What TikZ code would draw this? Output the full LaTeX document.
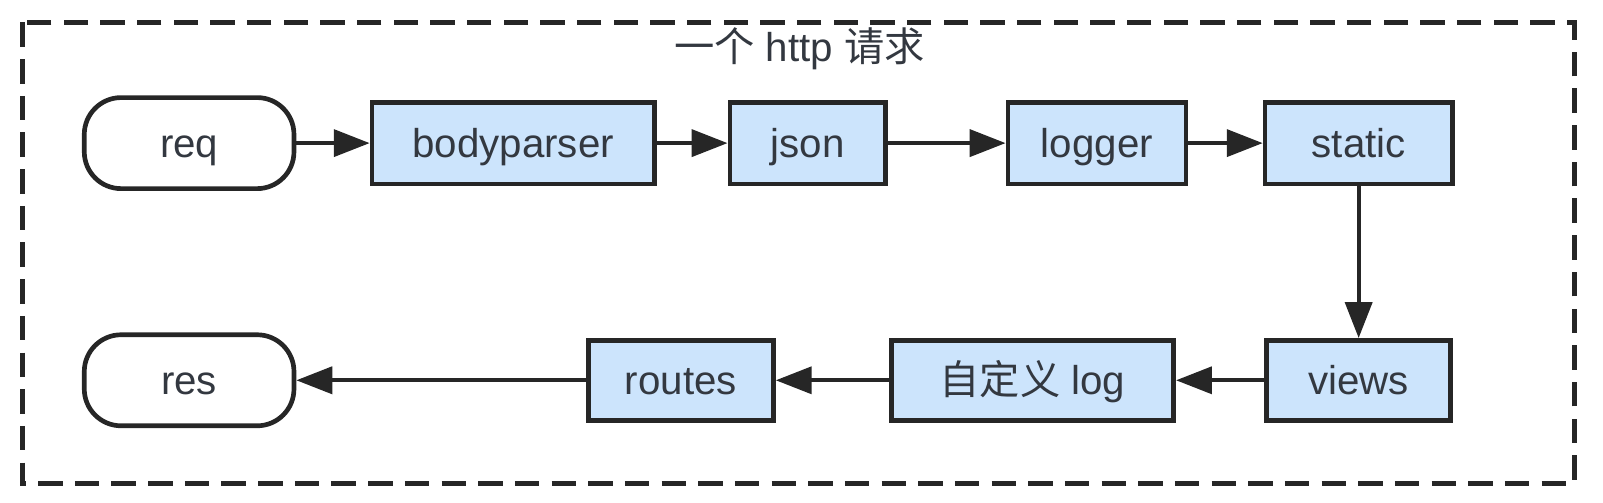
\documentclass[tikz,border=0pt]{standalone}
\usepackage{fontspec}
\setmainfont{Liberation Sans}
\newfontfamily\cjk{Noto Sans CJK SC}
\usetikzlibrary{arrows.meta}
\definecolor{boxblue}{HTML}{CCE4FC}
\definecolor{inkgray}{HTML}{262626}
\definecolor{textgray}{HTML}{333840}
\tikzset{
  mw/.style={draw=inkgray, line width=1.3pt, fill=boxblue, text=textgray, minimum height=0.8cm, inner sep=0pt, text height=0.9em, text depth=0.1em, font=\fontsize{11.2}{13}\selectfont},
  term/.style={draw=inkgray, line width=1.3pt, rounded corners=0.36cm, text=textgray, minimum width=2.05cm, minimum height=0.89cm, inner sep=0pt, text height=0.9em, text depth=0.1em, font=\fontsize{11.2}{13}\selectfont},
  flow/.style={->, line width=1.1pt, draw=inkgray}
}
\begin{document}
\begin{tikzpicture}[>={Triangle[length=10pt,width=7.5pt]}, x=0.01cm, y=-0.01cm]

	\useasboundingbox (0,0) rectangle (1568,492);
	\draw[inkgray, line width=1.3pt, dash pattern=on 6.8pt off 3.4pt] (22,22) rectangle (1540,473);
	\node[text=textgray, font=\fontsize{11.2}{13}\selectfont] (title) at (782,48) {{\cjk 一个} http {\cjk 请求}};

	\node[term] (req) at (185,140) {req};
	\node[mw, minimum width=2.76cm] (bodyparser) at (502,140) {bodyparser};
	\node[mw, minimum width=1.52cm] (json) at (790,140) {json};
	\node[mw, minimum width=1.74cm] (logger) at (1073,140) {logger};
	\node[mw, minimum width=1.83cm] (static) at (1329,140) {static};

	\node[mw, minimum width=1.80cm, minimum height=0.78cm] (views) at (1329,372) {views};
	\node[mw, minimum width=2.76cm, minimum height=0.78cm] (mylog) at (1010,372) {{\cjk 自定义} log};
	\node[mw, minimum width=1.81cm, minimum height=0.78cm] (routes) at (666,372) {routes};
	\node[term] (res) at (185,372) {res};

	\draw[flow] (req) -- (bodyparser);
	\draw[flow] (bodyparser) -- (json);
	\draw[flow] (json) -- (logger);
	\draw[flow] (logger) -- (static);
	\draw[flow] (static) -- (views);
	\draw[flow] (views) -- (mylog);
	\draw[flow] (mylog) -- (routes);
	\draw[flow] (routes) -- (res);
\end{tikzpicture}
\end{document}
